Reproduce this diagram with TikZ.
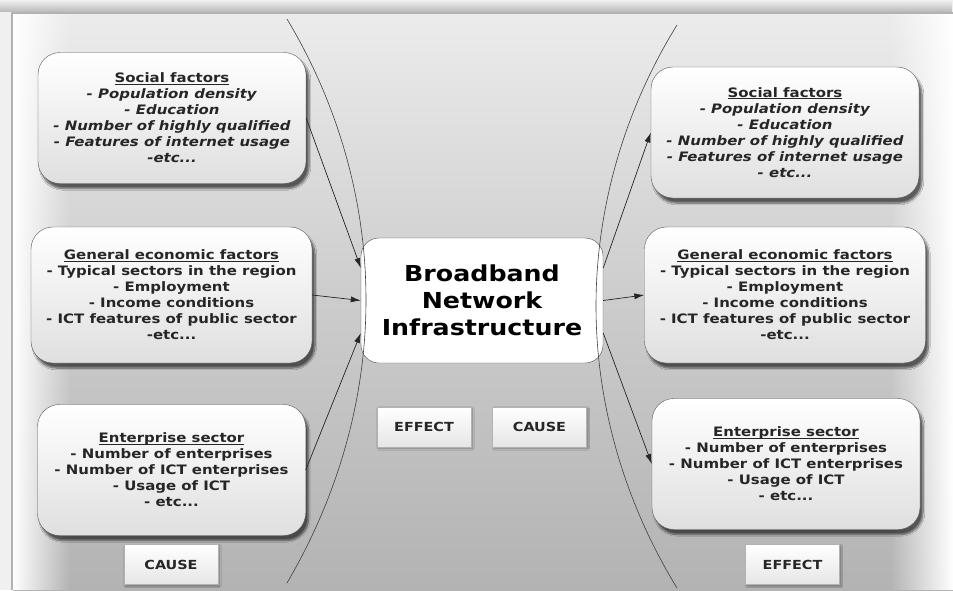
\documentclass[tikz,border=0pt]{standalone}
\usepackage{fontspec}
\newfontfamily\verd[FakeStretch=1.15]{DejaVu Sans}
\usetikzlibrary{arrows.meta,shadows.blur,fadings}

\pgfdeclareverticalshading{backdrop}{100bp}{color(0bp)=(gray!30); color(17bp)=(gray!66); color(50bp)=(gray!40); color(80bp)=(gray!10); color(100bp)=(white)}

\newcommand{\heading}[1]{\underline{\smash{#1}\vphantom{A}}}

\tikzset{
  factor/.style={draw=gray!70!black, rounded corners=22pt, top color=white, bottom color=gray!25,
    align=center, text=black!85, font=\verd\bfseries\fontsize{13}{16}\selectfont,
    minimum width=268pt, minimum height=131pt,
    blur shadow={shadow xshift=3pt, shadow yshift=-5pt, shadow blur steps=8, shadow opacity=60}},
  wide/.style={minimum width=281pt, minimum height=136pt},
  tag/.style={draw=gray!60, top color=white, bottom color=gray!20, text=black!85,
    font=\verd\bfseries\fontsize{12.5}{14}\selectfont, minimum width=94pt, minimum height=40pt,
    blur shadow={shadow xshift=1.5pt, shadow yshift=-1.5pt, shadow blur steps=4, shadow opacity=35}},
  core/.style={draw=gray!60!black, fill=white, rounded corners=18pt, align=center,
    font=\verd\bfseries\fontsize{22}{27}\selectfont, minimum width=242pt, minimum height=125pt},
  link/.style={-{Latex[length=10pt,width=6pt]}, black!85, line width=0.7pt},
  bow/.style={black!75, line width=0.6pt}
}

\begin{document}
\begin{tikzpicture}[x=1pt, y=-1pt]
    \useasboundingbox (0,0) rectangle (953,590);
    \fill[gray!12] (0,0) rectangle (953,590);
    \fill[gray!55, path fading=north] (0,0) rectangle (953,12);
    \shade[shading=backdrop] (13,13) rectangle (953,590);
    \fill[white, path fading=east] (13,13) rectangle (70,590);
    \fill[white, path fading=west] (890,13) rectangle (953,590);
    \draw[gray!60, line width=2pt] (12,590) -- (12,13) -- (953,13);

    \node[factor] (ls) at (172,118) {\heading{Social factors}\\ \textit{- Population density}\\ \textit{- Education}\\ \textit{- Number of highly qualified}\\ \textit{- Features of internet usage}\\ \textit{-etc...}};
    \node[factor, wide] (lg) at (171.5,295) {\heading{General economic factors}\\ - Typical sectors in the region\\ - Employment\\ - Income conditions\\ - ICT features of public sector\\ -etc...};
    \node[factor] (le) at (171.5,470) {\heading{Enterprise sector}\\ - Number of enterprises\\ - Number of ICT enterprises\\ - Usage of ICT\\ - etc...};

    \node[factor] (rs) at (785,132.5) {\heading{Social factors}\\ \textit{- Population density}\\ \textit{- Education}\\ \textit{- Number of highly qualified}\\ \textit{- Features of internet usage}\\ \textit{- etc...}};
    \node[factor, wide] (rg) at (785,295) {\heading{General economic factors}\\ - Typical sectors in the region\\ - Employment\\ - Income conditions\\ - ICT features of public sector\\ -etc...};
    \node[factor] (re) at (786,464) {\heading{Enterprise sector}\\ - Number of enterprises\\ - Number of ICT enterprises\\ - Usage of ICT\\ - etc...};

    \node[core] (bni) at (482,300.5) {Broadband\\ Network\\ Infrastructure};

    \node[tag] (effmid) at (424,427) {EFFECT};
    \node[tag] (caumid) at (539.5,427) {CAUSE};
    \node[tag] (cauleft) at (171,564.5) {CAUSE};
    \node[tag] (effright) at (792.5,564.5) {EFFECT};

    \draw[bow] (287,19) .. controls (338,104) and (366,201) .. (366,300) .. controls (366,399) and (338,496) .. (287,583);
    \draw[bow] (677,25) .. controls (625,109) and (596,207) .. (596,306) .. controls (596,405) and (625,503) .. (677,588);

    \draw[link] (ls.east) -- (bni.165);
    \draw[link] (lg.east) -- (bni.west);
    \draw[link] (le.east) -- (bni.195);
    \draw[link] (bni.15) -- (rs.west);
    \draw[link] (bni.east) -- (rg.west);
    \draw[link] (bni.-15) -- (re.west);
\end{tikzpicture}
\end{document}
